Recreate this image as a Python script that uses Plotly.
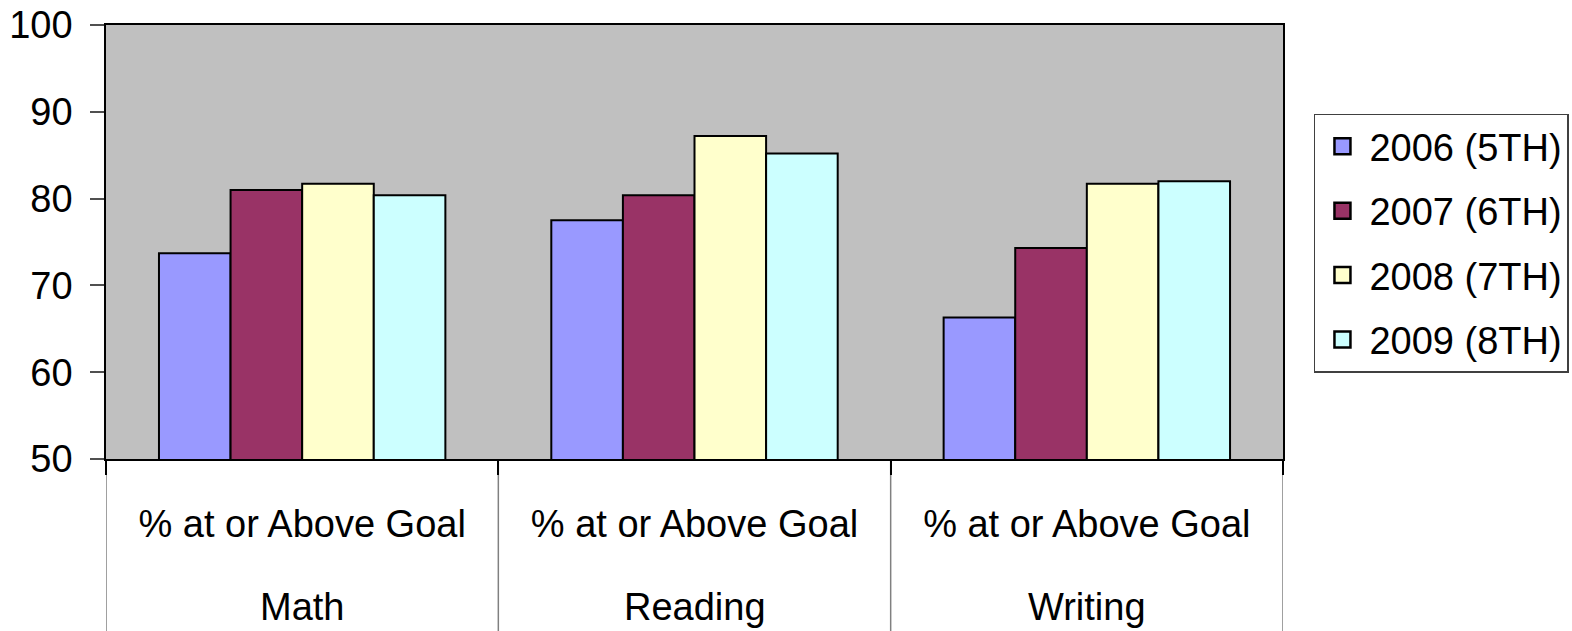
import plotly.graph_objects as go

subjects = ["Math", "Reading", "Writing"]
row_label = "% at or Above Goal"
series_names = ["2006 (5TH)", "2007 (6TH)", "2008 (7TH)", "2009 (8TH)"]
v2006 = [73.7, 77.5, 66.3]
v2007 = [81.0, 80.4, 74.3]
v2008 = [81.7, 87.2, 81.7]
v2009 = [80.4, 85.2, 82.0]
y_ticks = [50, 60, 70, 80, 90, 100]

values = [v2006, v2007, v2008, v2009]
colors = ["#9999FF", "#993366", "#FFFFCC", "#CCFFFF"]

FONT = "Liberation Sans, Arial, sans-serif"
FS = 38

fig = go.Figure()
for i, (name, vals) in enumerate(zip(series_names, values)):
    fig.add_trace(go.Bar(
        name=name, x=subjects, y=vals, base=0,
        marker=dict(color=colors[i], line=dict(color="black", width=2)),
        legendgroup=name, showlegend=False,
    ))
# legend entries with larger square swatches
for i, name in enumerate(series_names):
    fig.add_trace(go.Scatter(
        name=name, x=[None], y=[None], mode="markers",
        marker=dict(symbol="square", size=16, color=colors[i],
                    line=dict(color="black", width=2.5)),
        legendgroup=name, showlegend=True, hoverinfo="skip",
    ))

# dividers in the category label area
for k in range(len(subjects) + 1):
    fig.add_shape(type="line", xref="x", yref="paper",
                  x0=k - 0.5, x1=k - 0.5, y0=0, y1=-0.40,
                  line=dict(color="#808080", width=1.5), layer="below")

for s in subjects:
    fig.add_annotation(x=s, xref="x", y=-0.341, yref="paper", text=s,
                       showarrow=False, yanchor="middle",
                       font=dict(family=FONT, size=FS, color="black"))

fig.update_layout(
    width=1572, height=631,
    margin=dict(l=106, r=289, t=25, b=172, autoexpand=False),
    paper_bgcolor="white", plot_bgcolor="#C0C0C0",
    barmode="group", bargap=0.27, bargroupgap=0,
    font=dict(family=FONT, size=FS, color="black"),
    showlegend=True,
    legend=dict(x=1.0263, y=0.7960, xanchor="left", yanchor="top",
                bgcolor="white", bordercolor="#404040", borderwidth=1.5,
                font=dict(family=FONT, size=FS, color="black"),
                traceorder="grouped", tracegroupgap=12,
                itemwidth=44),
    xaxis=dict(type="category", tickvals=subjects,
               ticktext=[row_label] * len(subjects),
               tickson="boundaries", ticks="outside", ticklen=14,
               tickcolor="black", tickwidth=1.5,
               showline=True, linecolor="black", linewidth=1.5, mirror=True,
               showgrid=False, ticklabelstandoff=31,
               range=[-0.5, len(subjects) - 0.5]),
    yaxis=dict(range=[50, 100], tickvals=y_ticks, ticks="outside", ticklen=14,
               tickcolor="#505050", tickwidth=1.5,
               showline=True, linecolor="black", linewidth=1.5, mirror=True,
               showgrid=False, zeroline=False, ticklabelstandoff=10),
    yaxis2=dict(range=[50, 100], tickvals=y_ticks, overlaying="y", anchor="x",
                side="left", ticks="inside", ticklen=13, tickcolor="#505050",
                tickwidth=1.5, showticklabels=False, showgrid=False,
                zeroline=False, showline=False),
)

fig.write_html("out.html")
